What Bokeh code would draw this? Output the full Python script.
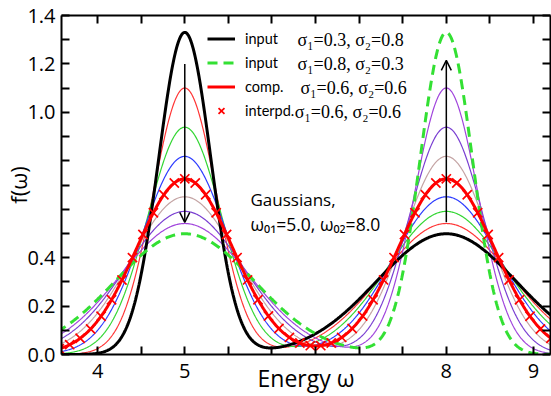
import numpy as np
from bokeh.plotting import figure
from bokeh.models import (Range1d, LinearAxis, FixedTicker, Legend, LegendItem,
                          Label, Arrow, OpenHead)
from bokeh.embed import file_html
from bokeh.resources import INLINE

# ---- data ----
omega0 = [5.0, 8.0]                       # Gaussian centres
sigma1 = [0.3, 0.3625, 0.425, 0.4875, 0.55, 0.6125, 0.675, 0.7375, 0.8]
sigma2 = [0.8, 0.7375, 0.675, 0.6125, 0.55, 0.4875, 0.425, 0.3625, 0.3]
thin_idx = [1, 2, 3, 5, 6, 7]
thin_colors = ["#ff3535", "#33d633", "#2d3cff", "#c4a4a4", "#7a3fd2", "#a044dc"]
interp_x = [3.56, 3.68, 3.80, 3.92, 4.04, 4.16, 4.28, 4.40, 4.52, 4.64, 4.76, 4.88,
            5.00, 5.12, 5.24, 5.36, 5.48, 5.60, 5.72, 5.84, 5.96, 6.08, 6.20, 6.32,
            6.44, 6.56, 6.68, 6.80, 6.92, 7.04, 7.16, 7.28, 7.40, 7.52, 7.64, 7.76,
            7.88, 8.00, 8.12, 8.24, 8.36, 8.48, 8.60, 8.72, 8.84, 8.96, 9.08, 9.20]
x_ticks = [3.5, 4.0, 4.5, 5.0, 5.5, 6.0, 6.5, 7.0, 7.5, 8.0, 8.5, 9.0]
x_labels = {4.0: "4", 5.0: "5", 8.0: "8", 9.0: "9"}
y_ticks = [0.0, 0.1, 0.2, 0.3, 0.4, 0.5, 0.6, 0.7, 0.8, 0.9, 1.0, 1.1, 1.2, 1.3, 1.4]
y_labels = {0.0: "0.0", 0.2: "0.2", 0.4: "0.4", 1.0: "1.0", 1.2: "1.2", 1.4: "1.4"}
legend_texts = ["input", "input", "comp.", "interpd."]
legend_sigma = ["σ₁=0.3, σ₂=0.8", "σ₁=0.8, σ₂=0.3", "σ₁=0.6, σ₂=0.6", "σ₁=0.6, σ₂=0.6"]
arrow_down = (5.0, 1.2, 0.546)
arrow_up = (8.0, 0.546, 1.215)

X0, X1 = 3.586, 9.195
xs = np.linspace(X0 - 0.05, X1 + 0.05, 700)


def gauss(x, mu, s):
    return np.exp(-0.5 * ((x - mu) / s) ** 2) / (s * np.sqrt(2 * np.pi))


def f(x, s1, s2):
    return gauss(x, omega0[0], s1) + gauss(x, omega0[1], s2)


SANS = "Open Sans"
LEG = "Lato"
SERIF = "Liberation Serif"

p = figure(width=551, height=396, output_backend="svg", toolbar_location=None,
           x_range=Range1d(X0, X1), y_range=Range1d(0, 1.4),
           min_border_left=61, min_border_right=1, min_border_top=15,
           min_border_bottom=40, x_axis_location=None, y_axis_location=None)
p.grid.visible = False
p.outline_line_color = None
p.background_fill_color = "white"
p.border_fill_color = "white"


def make_axis(ticks, labels, show, standoff=6):
    ax = LinearAxis(ticker=FixedTicker(ticks=ticks))
    ax.axis_line_width = 2
    ax.axis_line_color = "black"
    ax.major_tick_in = 8
    ax.major_tick_out = 0
    ax.major_tick_line_width = 2
    ax.minor_tick_line_color = None
    ax.major_label_overrides = {t: labels.get(t, "") for t in ticks}
    if show:
        ax.major_label_text_font = SANS
        ax.major_label_text_font_size = "20px"
        ax.major_label_text_color = "black"
        ax.major_label_standoff = standoff
    else:
        ax.major_label_text_font_size = "0px"
        ax.major_label_standoff = 0
    return ax


xb = make_axis(x_ticks, x_labels, True, standoff=9)
xb.axis_label = "Energy ω"
xb.axis_label_text_font = SANS
xb.axis_label_text_font_size = "23px"
xb.axis_label_text_font_style = "normal"
xb.axis_label_text_color = "black"
xb.axis_label_standoff = -19
p.add_layout(xb, "below")
p.add_layout(make_axis(x_ticks, {}, False), "above")

yl = make_axis(y_ticks, y_labels, True, standoff=6)
yl.axis_label = "f(ω)"
yl.axis_label_text_font = SANS
yl.axis_label_text_font_size = "22px"
yl.axis_label_text_font_style = "normal"
yl.axis_label_text_color = "black"
yl.axis_label_standoff = -9
p.add_layout(yl, "left")
p.add_layout(make_axis(y_ticks, {}, False), "right")

# thin intermediate curves
for i, c in zip(thin_idx, thin_colors):
    p.line(xs, f(xs, sigma1[i], sigma2[i]), line_color=c, line_width=1.2)

r_black = p.line(xs, f(xs, sigma1[0], sigma2[0]), line_color="black", line_width=3)
r_green = p.line(xs, f(xs, sigma1[8], sigma2[8]), line_color="#33e033", line_width=3,
                 line_dash="10 6")
r_red = p.line(xs, f(xs, sigma1[4], sigma2[4]), line_color="#ff0000", line_width=3)
ix = np.array(interp_x)
r_x = p.scatter(ix, f(ix, sigma1[4], sigma2[4]), marker="x", size=13,
                line_color="#ff0000", line_width=1.7)

# arrows
for (ax_, y0, y1) in (arrow_down, arrow_up):
    p.add_layout(Arrow(end=OpenHead(size=10, line_width=1.5, line_color="black"),
                       x_start=ax_, y_start=y0, x_end=ax_, y_end=y1,
                       line_width=1.5, line_color="black"))

legend = Legend(items=[LegendItem(label=legend_texts[0], renderers=[r_black]),
                       LegendItem(label=legend_texts[1], renderers=[r_green]),
                       LegendItem(label=legend_texts[2], renderers=[r_red]),
                       LegendItem(label=legend_texts[3], renderers=[r_x])],
                location=(146, 233), padding=0, margin=0, spacing=3,
                glyph_width=28, glyph_height=21, label_height=21,
                label_standoff=10, border_line_color=None,
                background_fill_alpha=0, label_text_font=LEG,
                label_text_font_size="14.5px", label_text_color="black",
                label_text_baseline="middle")
p.add_layout(legend)

# sigma parts of legend (serif)
sig_x = [6.293, 6.293, 6.328, 6.262]
sig_y = [1.297, 1.199, 1.101, 1.002]
for t, xx, yy in zip(legend_sigma, sig_x, sig_y):
    p.add_layout(Label(x=xx, y=yy, text=t, text_font=SERIF, text_font_size="18px",
                       text_baseline="middle", text_align="left", text_color="black"))

p.add_layout(Label(x=5.754, y=0.640, text="Gaussians,", text_font=SANS,
                   text_font_size="17px", text_baseline="alphabetic", text_color="black"))
p.add_layout(Label(x=5.754, y=0.538, text="ω₀₁=5.0, ω₀₂=8.0", text_font=SANS,
                   text_font_size="17.5px", text_baseline="alphabetic", text_color="black"))

open("out.html", "w").write(file_html(p, INLINE))
